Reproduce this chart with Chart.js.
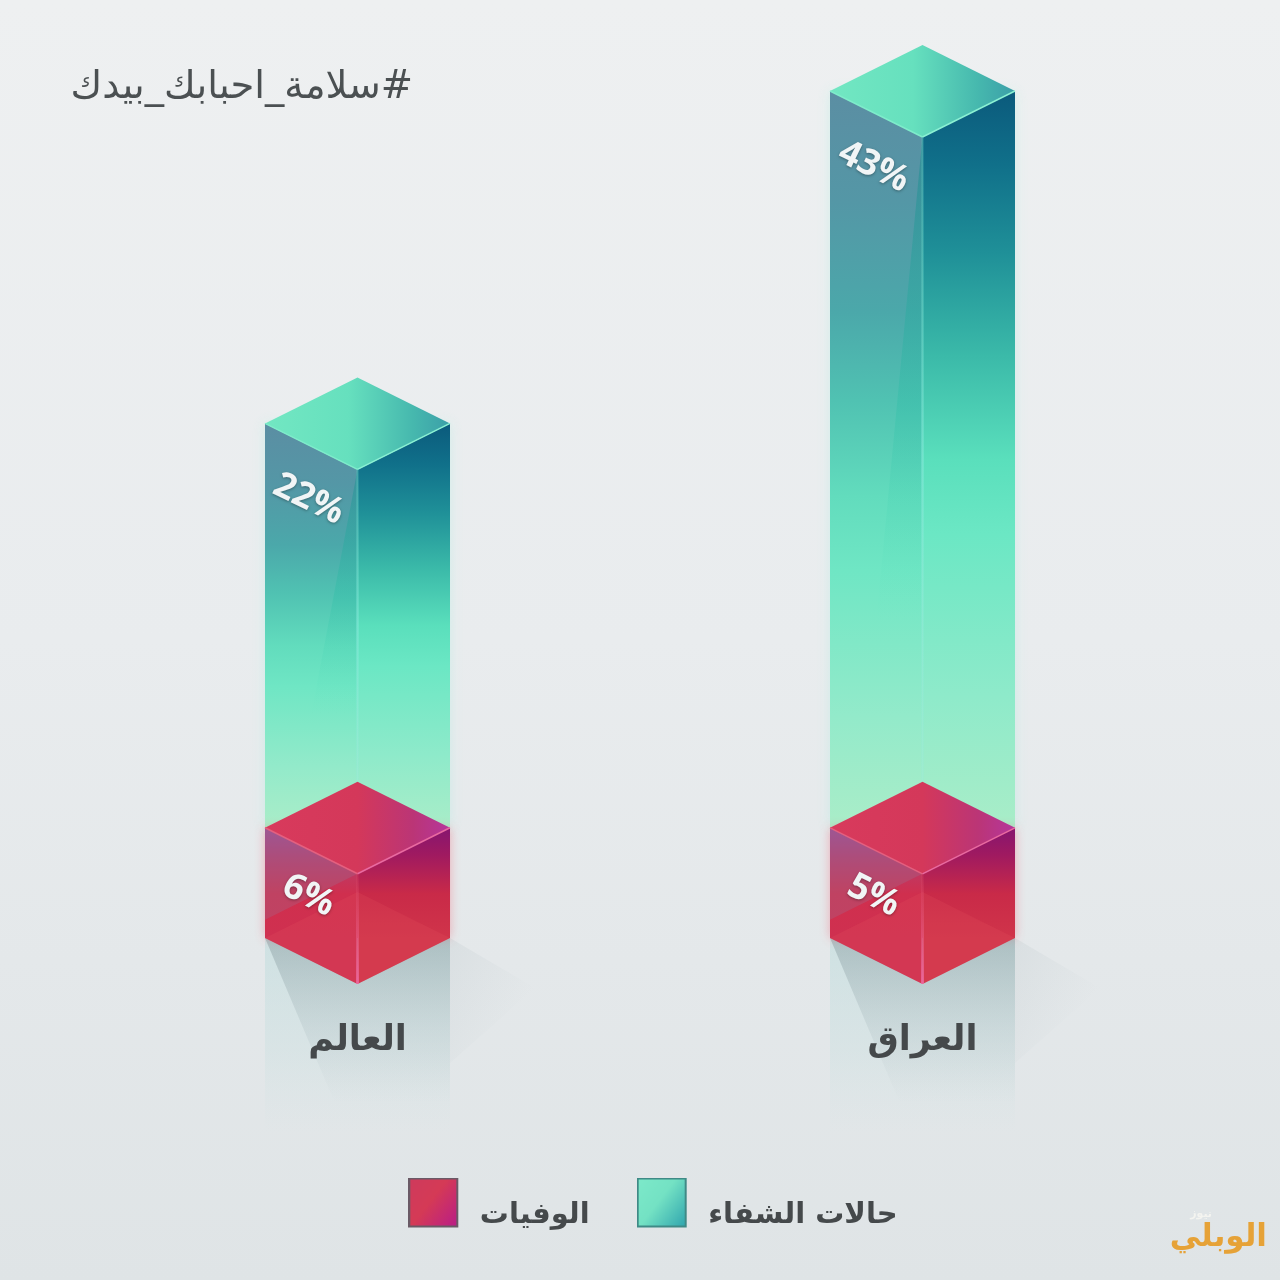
<!DOCTYPE html>
<html lang="ar">
<head>
<meta charset="utf-8">
<title>حالات الشفاء والوفيات</title>
<script src="https://cdn.jsdelivr.net/npm/chart.js@4"></script>
<style>
  html, body { margin: 0; padding: 0; background: #e8ecee; }
  canvas { display: block; }
</style>
</head>
<body>
<canvas id="myChart" width="1280" height="1280"></canvas>
<script>
// Values as printed on the picture
const categories = ['العالم', 'العراق'];
const recovered = [22, 43];
const deaths = [6, 5];
const seriesNames = ['الوفيات', 'حالات الشفاء'];
const pageTitle = '#سلامة_احبابك_بيدك';

// The original is not drawn to one scale, each column has its own axis range
const recoveredMin = [-6, -6.43];
const recoveredMax = [40.09, 43];
const deathsMax = [46.1, 38.45];

const ARABIC = '"DejaVu Sans", "Noto Sans", sans-serif';
const DEPTH = 46;

const ctx = document.getElementById('myChart').getContext('2d');

const vGrad = (y0, y1, stops) => {
  const g = ctx.createLinearGradient(0, y0, 0, y1);
  stops.forEach(s => g.addColorStop(s[0], s[1]));
  return g;
};
const hGrad = (x0, x1, stops) => {
  const g = ctx.createLinearGradient(x0, 0, x1, 0);
  stops.forEach(s => g.addColorStop(s[0], s[1]));
  return g;
};
const poly = (pts, fill) => {
  ctx.beginPath();
  pts.forEach((p, i) => (i ? ctx.lineTo(p[0], p[1]) : ctx.moveTo(p[0], p[1])));
  ctx.closePath();
  ctx.fillStyle = fill;
  ctx.fill();
};
const line = (x0, y0, x1, y1, color, w) => {
  ctx.beginPath();
  ctx.moveTo(x0, y0);
  ctx.lineTo(x1, y1);
  ctx.strokeStyle = color;
  ctx.lineWidth = w;
  ctx.stroke();
};

// Legend swatch, the empty strips right and below push it away from the text
const swatch = (c0, c1, c2, border) => {
  const c = document.createElement('canvas');
  c.width = 57;
  c.height = 76;
  const x = c.getContext('2d');
  const g = x.createLinearGradient(0, 6, 50, 44);
  g.addColorStop(0, c0);
  g.addColorStop(0.45, c1);
  g.addColorStop(1, c2);
  x.fillStyle = g;
  x.fillRect(1, 1, 48, 48);
  x.strokeStyle = border;
  x.lineWidth = 2;
  x.strokeRect(1, 1, 48, 48);
  return c;
};

const recoveredBar = (x, top, bottom, half) => {
  const left = x - half, right = x + half, h = bottom - top;
  // soft glow round the column
  ctx.save();
  ctx.shadowColor = 'rgba(120,240,210,0.45)';
  ctx.shadowBlur = 12;
  ctx.fillStyle = 'rgba(150,235,205,0.5)';
  ctx.fillRect(left, top, half * 2, h);
  ctx.restore();

  poly([[left, top], [x, top + DEPTH], [x, bottom + DEPTH], [left, bottom]], vGrad(top, bottom, [
    [0, '#5b8ea3'], [0.15, '#5497a6'], [0.3, '#4ba8aa'], [0.42, '#50c2b2'], [0.55, '#62dcbd'], [0.65, '#6fe6c4'], [0.85, '#93eaca'], [1, '#aaedc8']
  ]));
  poly([[x, top + DEPTH], [right, top], [right, bottom], [x, bottom + DEPTH]], vGrad(top, bottom, [
    [0, '#0b5a7c'], [0.1, '#10708a'], [0.22, '#1f9098'], [0.36, '#3bbaa9'], [0.5, '#5adfbc'], [0.6, '#6be7c4'], [0.82, '#8eeaca'], [1, '#a9edc8']
  ]));
  // sheen across the left face
  poly([[x, top + DEPTH], [x, top + h * 0.72], [x - half * 0.5, top + h * 0.72]], vGrad(top, top + h * 0.72, [
    [0, 'rgba(15,125,135,0.5)'], [0.6, 'rgba(40,190,165,0.3)'], [1, 'rgba(90,230,190,0)']
  ]));
  // top face
  const topFace = hGrad(left, right, [[0, '#72e7c2'], [0.45, '#66e0be'], [0.8, '#46b8ae'], [1, '#3b9fa8']]);
  poly([[left, top], [x, top - DEPTH], [right, top], [x, top + DEPTH]], topFace);
  line(left, top, x, top + DEPTH, '#7eecca', 1.5);
  line(x, top + DEPTH, right, top, '#8af0d2', 1.5);
  ctx.save();
  ctx.globalAlpha = 0.55;
  ctx.fillStyle = vGrad(top, bottom, [[0, 'rgba(80,200,190,0.3)'], [0.5, 'rgba(130,235,220,0.8)'], [1, 'rgba(150,235,215,0.4)']]);
  ctx.fillRect(x - 1.5, top + DEPTH, 3, h);
  ctx.restore();
};

const deathsBar = (x, top, bottom, half) => {
  const left = x - half, right = x + half;
  ctx.save();
  ctx.shadowColor = 'rgba(240,90,110,0.45)';
  ctx.shadowBlur = 10;
  ctx.fillStyle = '#cf3252';
  ctx.fillRect(left, top, half * 2, bottom - top);
  ctx.restore();

  poly([[left, top], [x, top + DEPTH], [x, bottom + DEPTH], [left, bottom]], vGrad(top, bottom, [
    [0, '#a04a93'], [0.3, '#b83c6c'], [0.6, '#d02f4e'], [1, '#cf3050']
  ]));
  poly([[x, top + DEPTH], [right, top], [right, bottom], [x, bottom + DEPTH]], vGrad(top, bottom, [
    [0, '#86156f'], [0.25, '#a01a60'], [0.6, '#c92a48'], [1, '#d0344a']
  ]));
  // upper sheen on the left face
  poly([[left, top], [x, top + DEPTH], [left, top + DEPTH * 2]], 'rgba(150,120,150,0.28)');
  // the floor of the cube showing through
  poly([[left, bottom], [x, bottom - DEPTH], [right, bottom], [x, bottom + DEPTH]], 'rgba(235,95,100,0.16)');
  poly([[left, top], [x, top - DEPTH], [right, top], [x, top + DEPTH]], hGrad(left, right, [
    [0, '#d83a5c'], [0.5, '#d4385a'], [0.8, '#bb3576'], [1, '#b5369c']
  ]));
  line(left, top, x, top + DEPTH, '#e4607f', 1.5);
  line(x, top + DEPTH, right, top, '#e96aa0', 1.5);
  ctx.fillStyle = vGrad(top + DEPTH, bottom + DEPTH, [[0, 'rgba(230,90,120,0.1)'], [1, 'rgba(240,110,170,0.75)']]);
  ctx.fillRect(x - 1.5, top + DEPTH, 3, bottom - top);
};

// Draws the column faces from what the bar elements got out of the scales
const isoBars = {
  id: 'isoBars',
  beforeDraw(chart) {
    const { width, height } = chart;
    ctx.fillStyle = vGrad(0, height, [[0, '#eef0f1'], [0.5, '#e9ecee'], [1, '#dfe4e6']]);
    ctx.fillRect(0, 0, width, height);

    // floor reflection and cast shadow
    chart.data.datasets.forEach((ds, i) => {
      if (ds.series !== 'deaths') return;
      chart.getDatasetMeta(i).data.forEach((bar, j) => {
        if (ds.data[j] === null) return;
        const half = bar.width / 2, x = bar.x, b = bar.base;
        ctx.fillStyle = vGrad(b, b + 195, [[0, 'rgba(175,215,215,0.42)'], [0.6, 'rgba(190,220,220,0.26)'], [1, 'rgba(200,225,225,0)']]);
        ctx.fillRect(x - half, b, half * 2, 195);
        poly([[x - half, b], [x + half, b], [x + half, b + 170], [x - half + 72, b + 170]], vGrad(b, b + 165, [
          [0, 'rgba(120,140,145,0.4)'], [0.55, 'rgba(140,160,165,0.16)'], [1, 'rgba(160,175,180,0)']
        ]));
        const tail = ctx.createLinearGradient(x + half, b, x + half + 85, b + 50);
        tail.addColorStop(0, 'rgba(160,175,180,0.16)');
        tail.addColorStop(1, 'rgba(170,185,190,0)');
        poly([[x + half, b], [x + half + 85, b + 50], [x + half, b + 125]], tail);
      });
    });

    // hashtag line
    ctx.save();
    ctx.direction = 'rtl';
    ctx.textAlign = 'right';
    ctx.textBaseline = 'middle';
    ctx.font = '38.5px ' + ARABIC;
    ctx.fillStyle = '#4b5052';
    ctx.fillText(pageTitle, 413, 88);
    ctx.restore();

    // publisher mark
    ctx.save();
    ctx.textAlign = 'right';
    ctx.textBaseline = 'middle';
    ctx.direction = 'rtl';
    ctx.fillStyle = '#e6a237';
    ctx.font = 'bold 31px ' + ARABIC;
    ctx.fillText('الوبلي', 1267, 1238);
    ctx.fillStyle = '#f4f4f0';
    ctx.font = 'bold 11px ' + ARABIC;
    ctx.fillText('نيوز', 1212, 1214);
    ctx.restore();
  },
  beforeDatasetsDraw(chart) {
    chart.data.datasets.forEach((ds, i) => {
      chart.getDatasetMeta(i).data.forEach((bar, j) => {
        if (ds.data[j] === null) return;
        if (ds.series === 'recovered') recoveredBar(bar.x, bar.y, bar.base, bar.width / 2);
      });
    });
    chart.data.datasets.forEach((ds, i) => {
      chart.getDatasetMeta(i).data.forEach((bar, j) => {
        if (ds.data[j] === null) return;
        if (ds.series === 'deaths') deathsBar(bar.x, bar.y, bar.base, bar.width / 2);
      });
    });
  },
  afterDatasetsDraw(chart) {
    chart.data.datasets.forEach((ds, i) => {
      chart.getDatasetMeta(i).data.forEach((bar, j) => {
        if (ds.data[j] === null) return;
        const up = ds.series === 'recovered' ? 76 : 68;
        ctx.save();
        ctx.translate(bar.x - 49, bar.y + up);
        ctx.rotate(26 * Math.PI / 180);
        ctx.font = 'bold 36px "Open Sans", sans-serif';
        ctx.textAlign = 'center';
        ctx.textBaseline = 'middle';
        ctx.fillStyle = '#f1f5f6';
        ctx.shadowColor = 'rgba(0,0,0,0.35)';
        ctx.shadowBlur = 3;
        ctx.shadowOffsetY = 1;
        ctx.fillText(ds.data[j] + '%', 0, 0);
        ctx.restore();
      });
    });
  },
  afterLayout(chart) {
    // legend sits a little right of the page's middle in the original
    chart.legend.left += 13;
    chart.legend.right += 13;
  }
};

const yAxes = {};
const datasets = [];
categories.forEach((c, i) => {
  const only = v => categories.map((_, j) => (j === i ? v : null));
  yAxes['yRec' + i] = { display: false, min: recoveredMin[i], max: recoveredMax[i] };
  yAxes['yDead' + i] = { display: false, min: 0, max: deathsMax[i] };
  datasets.push({ label: seriesNames[1], series: 'recovered', data: only(recovered[i]), yAxisID: 'yRec' + i, grouped: false, barThickness: 185, backgroundColor: 'transparent' });
  datasets.push({ label: seriesNames[0], series: 'deaths', data: only(deaths[i]), yAxisID: 'yDead' + i, grouped: false, barThickness: 185, backgroundColor: 'transparent' });
});

const legendBoxes = [
  swatch('#cf3a5c', '#d53a56', '#bb1f85', '#6a5a66'),
  swatch('#7ce9c9', '#74e2c4', '#34a9b0', '#3f8a86')
];

new Chart(ctx, {
  type: 'bar',
  data: { labels: categories, datasets },
  plugins: [isoBars],
  options: {
    responsive: false,
    animation: false,
    events: [],
    layout: { padding: { top: 91, bottom: 40, left: 75, right: 75 } },
    scales: {
      x: {
        offset: true,
        grid: { display: false },
        border: { display: false },
        ticks: {
          padding: 74,
          color: '#45494b',
          maxRotation: 0,
          font: { family: ARABIC, size: 35, weight: 'bold' }
        },
        afterFit: s => { s.height = 216; }
      },
      ...yAxes
    },
    plugins: {
      tooltip: { enabled: false },
      legend: {
        position: 'bottom',
        labels: {
          usePointStyle: true,
          pointStyleWidth: 57,
          padding: 47,
          color: '#45494b',
          font: { family: ARABIC, size: 29, weight: 'bold' },
          generateLabels: () => seriesNames.map((name, i) => ({
            text: name,
            pointStyle: legendBoxes[i],
            fontColor: '#45494b',
            hidden: false,
            lineWidth: 0
          }))
        }
      }
    }
  }
});
</script>
</body>
</html>
